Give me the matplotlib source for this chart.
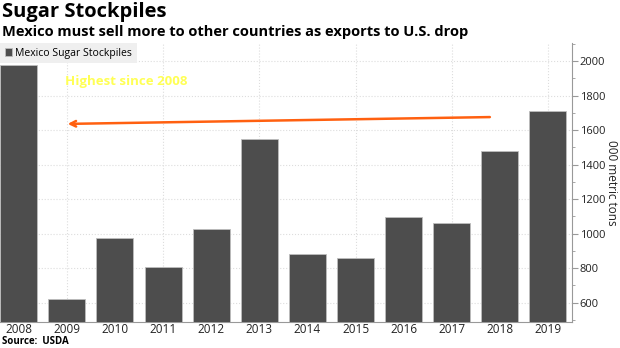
import matplotlib.pyplot as plt
from matplotlib.ticker import MultipleLocator

years = [2008, 2009, 2010, 2011, 2012, 2013, 2014, 2015, 2016, 2017, 2018, 2019]
stockpiles = [1978, 623, 973, 805, 1025, 1551, 880, 861, 1098, 1064, 1481, 1711]

arrow_start = (2017.85, 1676)
arrow_end = (2008.96, 1636)
note_pos = (2008.97, 1880)

plt.rcParams['font.family'] = ['Open Sans', 'DejaVu Sans']

fig = plt.figure(figsize=(6.2, 3.48), dpi=100)
ax = fig.add_axes([0.0, (348 - 321.7) / 348, 572 / 620, (321.7 - 43) / 348])

# bars
ax.bar(years, stockpiles, width=0.77, color='#4d4d4d', edgecolor='#bdbdbd',
       linewidth=0.6, label='Mexico Sugar Stockpiles', zorder=3)

ax.set_xlim(2007.61, 2019.5)
ax.set_ylim(490, 2105)

# y axis on the right
ax.yaxis.tick_right()
ax.yaxis.set_major_locator(MultipleLocator(200))
ax.yaxis.set_minor_locator(MultipleLocator(100))
ax.tick_params(axis='y', which='major', length=4, color='#999999', labelsize=8,
               labelcolor='#222222', pad=1.5)
ax.tick_params(axis='y', which='minor', length=2, color='#999999')
ax.text(1.069, 0.5, '000 metric tons', rotation=270, transform=ax.transAxes,
        ha='center', va='center', fontsize=8.5, color='#222222')

ax.set_xticks(years)
ax.set_xticklabels([str(y) for y in years])
ax.tick_params(axis='x', length=0, labelsize=8.5, labelcolor='#222222', pad=1)

# grid
ax.grid(axis='y', which='major', color='#dddddd', linestyle=':', linewidth=0.8, zorder=0)
for y in years[1::2]:
    ax.axvline(y, color='#dddddd', linestyle=':', linewidth=0.8, zorder=0)

for side in ['left', 'top']:
    ax.spines[side].set_visible(False)
ax.spines['right'].set_color('#999999')
ax.spines['bottom'].set_color('#999999')

# annotation
ax.annotate('', xy=arrow_end, xytext=arrow_start,
            arrowprops=dict(arrowstyle='->', color='#ff6010', lw=1.8,
                            mutation_scale=10), zorder=4)
ax.text(note_pos[0], note_pos[1], 'Highest since 2008', color='#ffff55',
        fontsize=9.5, fontweight='bold', va='center', ha='left', zorder=4)

leg = ax.legend(loc='upper left', bbox_to_anchor=(0, 1), borderaxespad=0,
                fontsize=7.5, frameon=True, fancybox=False, handlelength=0.7,
                handleheight=0.7, handletextpad=0.3, borderpad=0.45)
leg.get_frame().set_facecolor('#efefef')
leg.get_frame().set_edgecolor('none')
leg.get_frame().set_alpha(1)

# titles
fig.text(0.003, 0.995, 'Sugar Stockpiles', fontsize=14.5, fontweight='bold',
         va='top', ha='left', color='#000000')
fig.text(0.003, 0.928, 'Mexico must sell more to other countries as exports to U.S. drop',
         fontsize=10.5, fontweight='bold', va='top', ha='left', color='#000000')
fig.text(0.003, 0.004, 'Source:  USDA', fontsize=7, fontweight='bold',
         va='bottom', ha='left', color='#000000')

fig.savefig('out.png', dpi=100)
